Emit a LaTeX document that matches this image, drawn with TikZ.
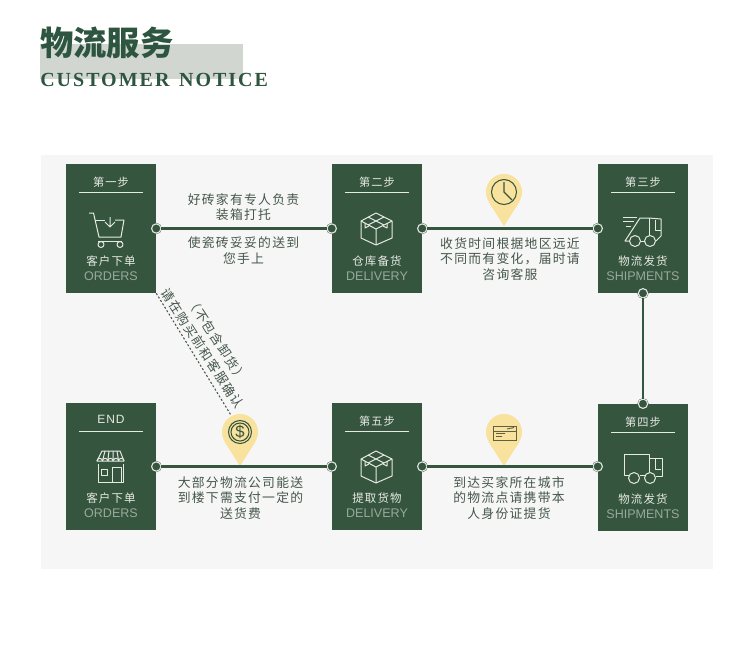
\documentclass[tikz,border=0pt]{standalone}
\usepackage{fontspec}
\setmainfont{Liberation Sans}
\newfontfamily\cjkbody[LetterSpace=10]{Noto Sans CJK SC}
\newfontfamily\cjkhead{Noto Sans CJK SC}
\newfontfamily\latinhead[LetterSpace=10]{Liberation Serif}
\usepackage{tikz}
\usetikzlibrary{arrows.meta, shapes.geometric, positioning, calc}
\definecolor{stepgreen}{HTML}{36553F}
\definecolor{headgreen}{HTML}{2D5540}
\definecolor{bandgrey}{HTML}{D2D6D0}
\definecolor{panelgrey}{HTML}{F6F6F6}
\definecolor{bodytext}{HTML}{45564A}
\definecolor{palelabel}{HTML}{E6EAE4}
\definecolor{dimlabel}{HTML}{98A99D}
\definecolor{pinyellow}{HTML}{F8E29E}
\definecolor{cardink}{HTML}{5F6240}
\tikzset{
  stepbox/.style  = {fill=stepgreen, minimum width=67.5pt, inner sep=0pt},
  stepttl/.style  = {text=palelabel, inner sep=0pt,
                     font=\cjkbody\fontsize{8.4}{10}\selectfont},
  steprule/.style = {fill=palelabel, minimum width=47.5pt, minimum height=0.9pt, inner sep=0pt},
  stepcn/.style   = {text=palelabel, inner sep=0pt,
                     font=\cjkbody\fontsize{8.6}{10}\selectfont},
  stepen/.style   = {text=dimlabel, inner sep=0pt, font=\fontsize{9.4}{11}\selectfont},
  note/.style     = {text=bodytext, inner sep=0pt, align=center,
                     font=\cjkbody\fontsize{9.6}{11.5}\selectfont},
  port/.style     = {circle, draw=stepgreen, fill=stepgreen, double=palelabel,
                     double distance=0.8pt, line width=0.25pt,
                     minimum size=7pt, inner sep=0pt},
  link/.style     = {draw=stepgreen, line width=1.7pt},
  pinhead/.style  = {circle, fill=pinyellow, minimum size=27pt, inner sep=0pt},
  icon/.style     = {draw=palelabel, line width=0.75pt, line join=round},
  pinicon/.style  = {draw=stepgreen, line width=0.8pt},
}
\newcommand{\cartonicon}[1]{%
  \begin{scope}[shift={(0,#1)}, icon]
    \draw (361,221) -- (376,213) -- (392,221) -- (392,238) -- (376,245) -- (361,238) -- cycle;
    \draw (361,221) -- (376,229) -- (392,221) (376,229) -- (376,245);
    \draw (368,217) -- (384,225) (384,217) -- (368,225);
    \draw (365,223) -- (365,228) -- (369,226) (387,223) -- (387,228) -- (383,226);
  \end{scope}}

\begin{document}
\begin{tikzpicture}[x=0.75pt, y=-0.75pt]
  \useasboundingbox (0,0) rectangle (750,654);

  % heading
  \fill[bandgrey] (40,44) rectangle (243,79);
  \node[text=headgreen, inner sep=0pt, anchor=west,
        font=\cjkhead\bfseries\fontsize{25}{28}\selectfont] (title) at (40,43) {物流服务};
  \node[text=headgreen, inner sep=0pt, anchor=base west,
        font=\latinhead\bfseries\fontsize{15}{18}\selectfont] (subtitle) at (40,86.5) {CUSTOMER\hspace{2pt} NOTICE};

  \fill[panelgrey] (41,155) rectangle (713,569);

  % cards
  \node[stepbox, minimum height=96.75pt] (step1) at (111,228.5) {};
  \node[stepbox, minimum height=96.75pt] (step2) at (377,228.5) {};
  \node[stepbox, minimum height=96.75pt] (step3) at (643,228.5) {};
  \node[stepbox, minimum height=95.25pt] (step4) at (643,467.5) {};
  \node[stepbox, minimum height=95.25pt] (step5) at (377,466.5) {};
  \node[stepbox, minimum height=95.25pt] (step6) at (111,466.5) {};

  \foreach \nm/\ttl/\cn/\en in {step1/第一步/客户下单/ORDERS, step2/第二步/仓库备货/DELIVERY,
      step3/第三步/物流发货/SHIPMENTS, step4/第四步/物流发货/SHIPMENTS,
      step5/第五步/提取货物/DELIVERY} {
    \node[stepttl]  (\nm-ttl)  at ($(\nm.north)+(0,18)$) {\ttl};
    \node[steprule] (\nm-rule) at ($(\nm.north)+(0,29)$) {};
    \node[stepcn]   (\nm-cn)   at ($(\nm.south)+(0,-32)$) {\cn};
    \node[stepen]   (\nm-en)   at ($(\nm.south)+(0,-17.5)$) {\en};
  }
  \node[stepttl, font=\fontsize{9}{11}\selectfont, text=palelabel] (step6-ttl) at ($(step6.north)+(0,17)$) {\addfontfeature{LetterSpace=8}END};
  \node[steprule] (step6-rule) at ($(step6.north)+(0,29)$) {};
  \node[stepcn]   (step6-cn)   at ($(step6.south)+(0,-32)$) {客户下单};
  \node[stepen]   (step6-en)   at ($(step6.south)+(0,-17.5)$) {ORDERS};

  % notes
  \node[note] (n1a) at (243.5,207)   {好砖家有专人负责\\装箱打托};
  \node[note] (n1b) at (243.5,250.5) {使瓷砖妥妥的送到\\您手上};
  \node[note] (n2)  at (510,259)     {收货时间根据地区远近\\不同而有变化，届时请\\咨询客服};
  \node[note] (n3)  at (509,498)     {到达买家所在城市\\的物流点请携带本\\人身份证提货};
  \node[note] (n4)  at (240.5,498)   {大部分物流公司能送\\到楼下需支付一定的\\送货费};

  % pins
  \node[pinhead] (pin1) at (504,192) {};
  \node[pinhead] (pin2) at (504,432) {};
  \node[pinhead] (pin3) at (240,432) {};
  \coordinate (tip1) at (504,226);
  \coordinate (tip2) at (504,466);
  \coordinate (tip3) at (240,466);
  \foreach \a in {1,2,3}
    \fill[pinyellow] (pin\a.-32) -- (tip\a) -- (pin\a.-148) -- cycle;

  % ports and links
  \node[port] (p1) at (step1.east) {};
  \node[port] (p2) at (step2.west) {};
  \node[port] (p3) at (step2.east) {};
  \node[port] (p4) at (step3.west) {};
  \node[port] (p5) at (step3.south) {};
  \node[port] (p6) at (step4.north) {};
  \node[port] (p7) at (step4.west |- step5.east) {};
  \node[port] (p8) at (step5.east) {};
  \node[port] (p9) at (step5.west) {};
  \node[port] (p10) at (step6.east) {};
  \foreach \a/\b in {p1/p2, p3/p4, p5/p6, p7/p8, p9/p10}
    \draw[link] (\a) -- (\b);

  % dotted remark
  \draw[bodytext, line width=0.8pt, dash pattern=on 1.5pt off 1.5pt] (step1.south east) -- (pin3.118);
  \node[note, rotate=-57] (remark1) at (202.5,348.5) {请在购买前和客服确认};
  \node[note, rotate=-57] (remark2) at (217,339.5)   {（不包含卸货）};

  % cart
  \begin{scope}[icon]
    \draw (89,213) -- (93.5,213) -- (99,237) -- (121,237) -- (124,220) -- (115,220);
    \draw (95,220) -- (105,220);
    \draw (110,217) -- (110,227) (105,222) -- (110,227) -- (115,222);
    \draw (98,241) -- (122,241);
    \draw (101,244.5) circle (3) (120,244.5) circle (3);
  \end{scope}

  % cartons
  \cartonicon{0}
  \cartonicon{238}

  % slanted truck
  \begin{scope}[icon]
    \draw (635,241) circle (5.5) (650,241) circle (5.5);
    \draw (629.5,241) -- (625,241) -- (640,218) -- (649,218) -- (661,219) -- (661,236) -- (656,241);
    \draw (649,218) -- (649,236) (640.5,241) -- (644.5,241);
    \draw (655,220) -- (655,230) -- (661,230);
    \draw (623,217) -- (637,217) (623,221) -- (634,221) (626,226) -- (631,226);
  \end{scope}

  % plain truck
  \begin{scope}[icon]
    \draw (634,478) circle (5.5) (650,478) circle (5.5);
    \draw (628.5,475) -- (624,475) -- (624,454) -- (649,454) -- (649,472);
    \draw (639.5,475) -- (644.5,475);
    \draw (649,458) -- (662,458) -- (662,476) -- (655.5,476);
    \draw (655,459) -- (655,469) -- (661,469);
  \end{scope}

  % shop
  \begin{scope}[icon]
    \draw (102,451) -- (120,451) -- (124,461) -- (97,461) -- cycle;
    \foreach \sx in {97,102.4,107.8,113.2,118.6}
      \draw (\sx,461) arc[start angle=180, end angle=360, radius=2.7];
    \foreach \sx/\tx in {102.4/105, 107.8/109, 113.2/113, 118.6/117}
      \draw (\sx,461) -- (\tx,451);
    \draw (98,464) -- (98,482) -- (123,482) -- (123,464);
    \draw (101,469) rectangle (107,475);
    \draw (112,482) -- (112,467) -- (121,467) -- (121,482);
  \end{scope}

  % clock
  \begin{scope}[pinicon]
    \draw (504,192) circle (12.5);
    \draw (504,182) -- (504,192) -- (512,200);
  \end{scope}

  % coin
  \begin{scope}[pinicon]
    \draw (240,432) circle (11.5) (240,432) circle (9);
    \node[inner sep=0pt, text=stepgreen, font=\fontsize{12.5}{14}\selectfont] (coin) at (240,432) {\$};
  \end{scope}

  % card
  \begin{scope}[draw=cardink, line width=0.7pt]
    \draw (493,426) rectangle (516,440);
    \draw (493,431) -- (516,431);
    \draw (507,429) -- (514,427.5) (496,433.5) -- (505,433.5) (496,436.5) -- (502,436.5);
  \end{scope}
\end{tikzpicture}
\end{document}
